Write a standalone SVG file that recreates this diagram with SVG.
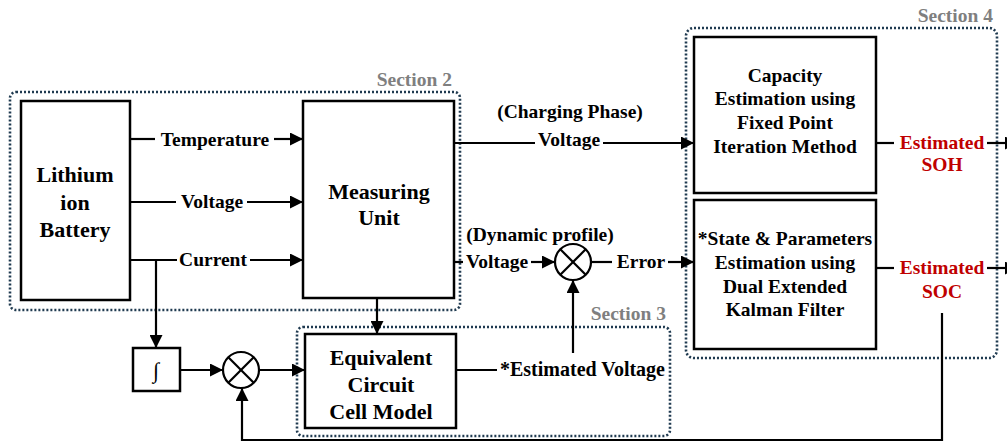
<svg xmlns="http://www.w3.org/2000/svg" width="1007" height="443" viewBox="0 0 1007 443">
<style>
.bg{fill:#ffffff}
.box{fill:#ffffff;stroke:#000;stroke-width:2.5}
.sec{fill:none;stroke:#1f3a50;stroke-width:2.6;stroke-dasharray:2 2}
.ln{fill:none;stroke:#000;stroke-width:2.2}
.t{font-family:"Liberation Serif","Times New Roman",serif;font-weight:bold;font-size:19.5px;fill:#000;text-anchor:middle}
.tb{font-family:"Liberation Serif","Times New Roman",serif;font-weight:bold;font-size:22px;fill:#000;text-anchor:middle}
.sl{font-family:"Liberation Serif","Times New Roman",serif;font-weight:bold;font-size:19.5px;fill:#7f7f7f;text-anchor:end}
.red{fill:#c00000}
.sum{fill:#fff;stroke:#000;stroke-width:2.2}
</style>
<defs>
<marker id="ah" markerUnits="userSpaceOnUse" markerWidth="14" markerHeight="13" refX="13" refY="6.5" orient="auto">
<path d="M0,0 L13,6.5 L0,13 z" fill="#000"/>
</marker>
</defs>
<rect class="bg" x="0" y="0" width="1007" height="443"/>

<g id="sections">
<rect class="sec" x="10" y="92" width="450" height="218" rx="6"/>
<text class="sl" x="452" y="86">Section 2</text>
<rect class="sec" x="297" y="327" width="373" height="109" rx="6"/>
<text class="sl" x="666" y="320">Section 3</text>
<rect class="sec" x="686" y="28" width="311" height="330" rx="8"/>
<text class="sl" x="993" y="22">Section 4</text>
</g>

<g id="connectors">
<line class="ln" x1="130" y1="139" x2="155" y2="139"/>
<line class="ln" x1="274" y1="139" x2="303" y2="139" marker-end="url(#ah)"/>
<line class="ln" x1="130" y1="202" x2="176" y2="202"/>
<line class="ln" x1="247" y1="202" x2="303" y2="202" marker-end="url(#ah)"/>
<line class="ln" x1="130" y1="260" x2="177" y2="260"/>
<line class="ln" x1="250" y1="260" x2="303" y2="260" marker-end="url(#ah)"/>
<line class="ln" x1="156" y1="260" x2="156" y2="348" marker-end="url(#ah)"/>
<line class="ln" x1="180" y1="370" x2="223" y2="370" marker-end="url(#ah)"/>
<line class="ln" x1="259" y1="370" x2="305" y2="370" marker-end="url(#ah)"/>
<line class="ln" x1="377" y1="298" x2="377" y2="334" marker-end="url(#ah)"/>
<line class="ln" x1="454" y1="143" x2="535" y2="143"/>
<line class="ln" x1="603" y1="143" x2="694" y2="143" marker-end="url(#ah)"/>
<line class="ln" x1="454" y1="262" x2="463" y2="262"/>
<line class="ln" x1="531" y1="262" x2="555" y2="262" marker-end="url(#ah)"/>
<line class="ln" x1="591" y1="262" x2="612" y2="262"/>
<line class="ln" x1="668" y1="262" x2="694" y2="262" marker-end="url(#ah)"/>
<line class="ln" x1="456" y1="370" x2="497" y2="370"/>
<line class="ln" x1="573" y1="353" x2="573" y2="280" marker-end="url(#ah)"/>
<line class="ln" x1="876" y1="143" x2="894" y2="143"/>
<line class="ln" x1="987" y1="143" x2="1018" y2="143" marker-end="url(#ah)"/>
<line class="ln" x1="876" y1="268" x2="894" y2="268"/>
<line class="ln" x1="987" y1="268" x2="1018" y2="268" marker-end="url(#ah)"/>
<polyline class="ln" points="942,313 942,440 242,440 242,388" marker-end="url(#ah)"/>
</g>

<g id="battery">
<rect class="box" x="21" y="101" width="109" height="199"/>
<text class="tb" x="75" y="182">Lithium</text>
<text class="tb" x="75" y="210">ion</text>
<text class="tb" x="75" y="237">Battery</text>
</g>

<g id="labels-left">
<text class="t" x="215" y="146">Temperature</text>
<text class="t" x="212" y="208">Voltage</text>
<text class="t" x="213" y="266">Current</text>
</g>

<g id="measuring">
<rect class="box" x="303" y="101" width="151" height="197"/>
<text class="tb" x="379" y="199">Measuring</text>
<text class="tb" x="379" y="225">Unit</text>
</g>

<g id="integrator">
<rect class="box" x="133" y="348" width="47" height="43"/>
<text x="156" y="378" font-family="Liberation Serif,serif" font-size="22" text-anchor="middle">∫</text>
</g>

<g id="sum1">
<circle class="sum" cx="241" cy="370" r="18"/>
<line class="ln" x1="228.3" y1="357.3" x2="253.7" y2="382.7"/>
<line class="ln" x1="253.7" y1="357.3" x2="228.3" y2="382.7"/>
</g>

<g id="ecm">
<rect class="box" x="305" y="334" width="151" height="94"/>
<text class="tb" x="381" y="365">Equivalent</text>
<text class="tb" x="381" y="392">Circuit</text>
<text class="tb" x="381" y="419">Cell Model</text>
</g>

<g id="est-voltage">
<text class="t" x="500" y="376" style="text-anchor:start;font-size:20px">*Estimated Voltage</text>
</g>

<g id="charging-labels">
<text class="t" x="570" y="118">(Charging Phase)</text>
<text class="t" x="569" y="146">Voltage</text>
</g>

<g id="dynamic-labels">
<text class="t" x="540" y="241">(Dynamic profile)</text>
<text class="t" x="497" y="268">Voltage</text>
<text class="t" x="641" y="268">Error</text>
</g>

<g id="sum2">
<circle class="sum" cx="573" cy="262" r="18"/>
<line class="ln" x1="560.3" y1="249.3" x2="585.7" y2="274.7"/>
<line class="ln" x1="585.7" y1="249.3" x2="560.3" y2="274.7"/>
</g>

<g id="capacity">
<rect class="box" x="694" y="37" width="182" height="156"/>
<text class="t" x="785" y="82">Capacity</text>
<text class="t" x="785" y="105">Estimation using</text>
<text class="t" x="785" y="129">Fixed Point</text>
<text class="t" x="785" y="153">Iteration Method</text>
</g>

<g id="dekf">
<rect class="box" x="694" y="200" width="182" height="149"/>
<text class="t" x="785" y="245">*State &amp; Parameters</text>
<text class="t" x="785" y="269">Estimation using</text>
<text class="t" x="785" y="293">Dual Extended</text>
<text class="t" x="785" y="316">Kalman Filter</text>
</g>

<g id="soh">
<text class="t red" x="942" y="149">Estimated</text>
<text class="t red" x="942" y="171">SOH</text>
</g>

<g id="soc">
<text class="t red" x="942" y="274">Estimated</text>
<text class="t red" x="942" y="298">SOC</text>
</g>
</svg>
